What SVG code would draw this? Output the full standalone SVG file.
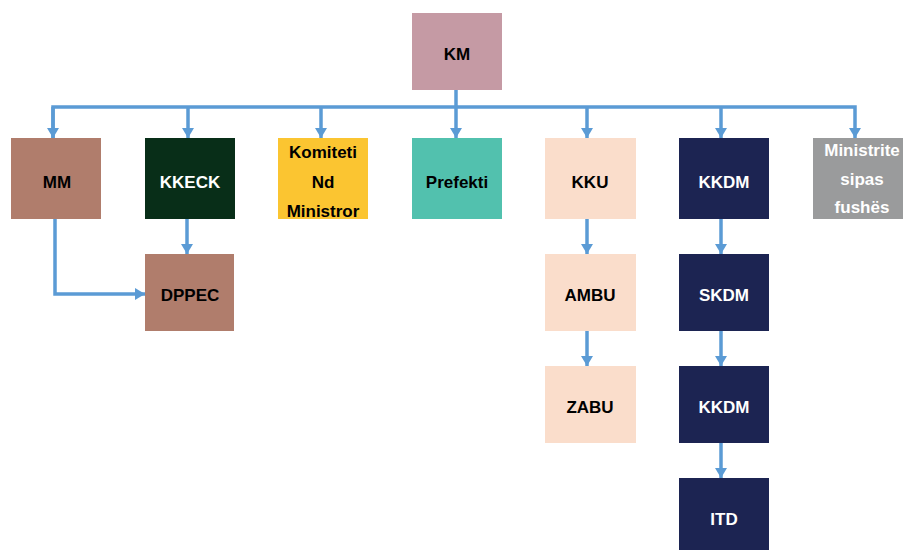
<svg xmlns="http://www.w3.org/2000/svg" width="903" height="550" viewBox="0 0 903 550">
<style>
.t{font-family:"Liberation Sans",Arial,sans-serif;font-weight:bold;font-size:17px;text-anchor:middle}
.d{fill:#000}
.w{fill:#fff}
.c{fill:none;stroke:#5B9BD5;stroke-width:3.5;stroke-linejoin:miter}
</style>
<defs>
<marker id="ah" markerUnits="userSpaceOnUse" markerWidth="12" markerHeight="12" viewBox="0 0 10 12" refX="10" refY="6" orient="auto">
<polygon points="0,0 10,6 0,12" fill="#5B9BD5"/>
</marker>
</defs>
<rect width="903" height="550" fill="#fff"/>
<g id="connectors">
<polyline class="c" points="53,138 53,107 855,107 855,138" marker-end="url(#ah)"/>
<line class="c" x1="53" y1="107" x2="53" y2="138" marker-end="url(#ah)"/>
<line class="c" x1="188" y1="107" x2="188" y2="138" marker-end="url(#ah)"/>
<line class="c" x1="321" y1="107" x2="321" y2="138" marker-end="url(#ah)"/>
<line class="c" x1="456" y1="90" x2="456" y2="138" marker-end="url(#ah)"/>
<line class="c" x1="587" y1="107" x2="587" y2="138" marker-end="url(#ah)"/>
<line class="c" x1="721" y1="107" x2="721" y2="138" marker-end="url(#ah)"/>
<line class="c" x1="187" y1="219" x2="187" y2="254" marker-end="url(#ah)"/>
<polyline class="c" points="55,219 55,294 145,294" marker-end="url(#ah)"/>
<line class="c" x1="587" y1="219" x2="587" y2="254" marker-end="url(#ah)"/>
<line class="c" x1="587" y1="331" x2="587" y2="366" marker-end="url(#ah)"/>
<line class="c" x1="721" y1="219" x2="721" y2="254" marker-end="url(#ah)"/>
<line class="c" x1="721" y1="331" x2="721" y2="366" marker-end="url(#ah)"/>
<line class="c" x1="721" y1="443" x2="721" y2="478" marker-end="url(#ah)"/>
</g>
<g id="KM"><rect x="412" y="13" width="90" height="77" fill="#C59AA4"/><text class="t d" x="457" y="60">KM</text></g>
<g id="MM"><rect x="11" y="138" width="90" height="81" fill="#B07D6C"/><text class="t d" x="57" y="188">MM</text></g>
<g id="KKECK"><rect x="145" y="138" width="90" height="81" fill="#082E18"/><text class="t w" x="190" y="188">KKECK</text></g>
<g id="Komiteti"><rect x="278" y="138" width="90" height="81" fill="#FBC531"/><text class="t d" x="323" y="158">Komiteti</text><text class="t d" x="323" y="188">Nd</text><text class="t d" x="323" y="217">Ministror</text></g>
<g id="Prefekti"><rect x="412" y="138" width="90" height="81" fill="#52C1AE"/><text class="t d" x="457" y="188">Prefekti</text></g>
<g id="KKU"><rect x="545" y="138" width="91" height="81" fill="#FADDCB"/><text class="t d" x="590" y="188">KKU</text></g>
<g id="KKDM"><rect x="679" y="138" width="90" height="81" fill="#1C2452"/><text class="t w" x="724" y="188">KKDM</text></g>
<g id="Ministrite"><rect x="813" y="138" width="90" height="81" fill="#9A9B9C"/><text class="t w" x="862" y="156">Ministrite</text><text class="t w" x="862" y="185">sipas</text><text class="t w" x="862" y="213">fushës</text></g>
<g id="DPPEC"><rect x="145" y="254" width="89" height="77" fill="#B07D6C"/><text class="t d" x="190" y="301">DPPEC</text></g>
<g id="AMBU"><rect x="545" y="254" width="91" height="77" fill="#FADDCB"/><text class="t d" x="590" y="301">AMBU</text></g>
<g id="ZABU"><rect x="545" y="366" width="91" height="77" fill="#FADDCB"/><text class="t d" x="590" y="413">ZABU</text></g>
<g id="SKDM"><rect x="679" y="254" width="90" height="77" fill="#1C2452"/><text class="t w" x="724" y="301">SKDM</text></g>
<g id="KKDM2"><rect x="679" y="366" width="90" height="77" fill="#1C2452"/><text class="t w" x="724" y="413">KKDM</text></g>
<g id="ITD"><rect x="679" y="478" width="90" height="77" fill="#1C2452"/><text class="t w" x="724" y="525">ITD</text></g>
</svg>
